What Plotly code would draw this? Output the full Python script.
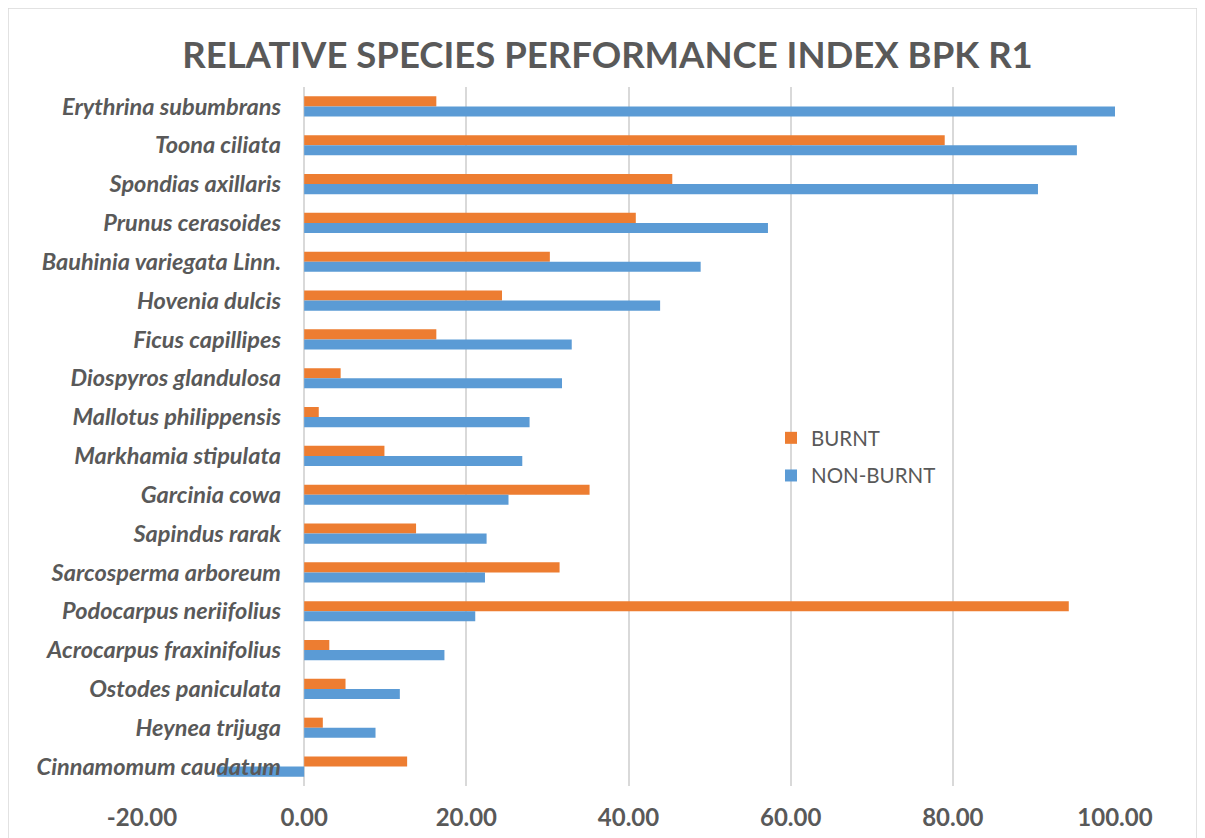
import plotly.graph_objects as go

species = [
    "Erythrina subumbrans", "Toona ciliata", "Spondias axillaris", "Prunus cerasoides",
    "Bauhinia variegata Linn.", "Hovenia dulcis", "Ficus capillipes", "Diospyros glandulosa",
    "Mallotus philippensis", "Markhamia stipulata", "Garcinia cowa", "Sapindus rarak",
    "Sarcosperma arboreum", "Podocarpus neriifolius", "Acrocarpus fraxinifolius",
    "Ostodes paniculata", "Heynea trijuga", "Cinnamomum caudatum",
]
burnt = [16.3, 79.0, 45.4, 40.9, 30.3, 24.4, 16.3, 4.5, 1.8, 9.9, 35.2, 13.8, 31.5, 94.3,
         3.1, 5.1, 2.3, 12.7]
non_burnt = [100.0, 95.3, 90.5, 57.2, 48.9, 43.9, 33.0, 31.8, 27.8, 26.9, 25.2, 22.5, 22.3,
             21.1, 17.3, 11.8, 8.8, -10.7]
x_ticks = [-20, 0, 20, 40, 60, 80, 100]
x_tick_labels = [f"{v:.2f}" for v in x_ticks]

# page body has an 8px margin, so figure px = screenshot px - 8
OFF = 8
W, H = 1205, 838
ML, MT = 142 - OFF, 87 - OFF
MR = W - (1115 - OFF)
MB = H - (786 - OFF)
PW = W - ML - MR
PH = H - MT - MB

GRAY = "#595959"
FONT = "Lato"

fig = go.Figure()
fig.add_trace(go.Bar(
    y=species, x=burnt, name="BURNT", orientation="h",
    marker=dict(color="#ED7D31", line=dict(width=0)),
    legendgroup="b", legendrank=1,
))
fig.add_trace(go.Bar(
    y=species, x=non_burnt, name="NON-BURNT", orientation="h",
    marker=dict(color="#5B9BD5", line=dict(width=0)),
    legendgroup="n", legendrank=2,
))

def px2paper_x(px):
    return (px - OFF - ML) / PW

def px2paper_y(py):
    return 1 - (py - OFF - MT) / PH

fig.update_layout(
    width=W, height=H,
    margin=dict(l=ML, r=MR, t=MT, b=MB),
    paper_bgcolor="white", plot_bgcolor="white",
    barmode="group", bargap=0.48, bargroupgap=0,
    title=dict(text="<b>RELATIVE SPECIES PERFORMANCE INDEX BPK R1</b>",
               x=(607.5 - OFF) / W, xref="container", xanchor="center",
               y=1 - (55 - OFF) / H, yref="container", yanchor="middle",
               font=dict(family=FONT, size=36.5, color=GRAY)),
    xaxis=dict(range=[-20, 100], tickvals=x_ticks, ticktext=x_tick_labels,
               showgrid=True, gridcolor="#d9d9d9", gridwidth=1.5, zeroline=False,
               showline=False, ticks="outside", ticklen=10, tickcolor="rgba(0,0,0,0)",
               tickfont=dict(family=FONT, size=24, color=GRAY, weight="bold"),
               fixedrange=True),
    yaxis=dict(type="category", autorange="reversed", anchor="free",
               position=px2paper_x(281), showgrid=False, zeroline=False, showline=False,
               ticks="", tickfont=dict(family=FONT, size=23.5, color=GRAY, weight="bold",
                                       style="italic")),
    legend=dict(x=px2paper_x(771), y=px2paper_y(418), xanchor="left", yanchor="top",
                font=dict(family=FONT, size=20.5, color=GRAY), traceorder="grouped",
                tracegroupgap=8, bgcolor="rgba(0,0,0,0)"),
    shapes=[dict(type="rect", xref="paper", yref="paper",
                 x0=px2paper_x(8), x1=px2paper_x(1197), y0=px2paper_y(850), y1=px2paper_y(8),
                 line=dict(color="#d9d9d9", width=1.5), layer="below")],
)

fig.write_html("out.html")
